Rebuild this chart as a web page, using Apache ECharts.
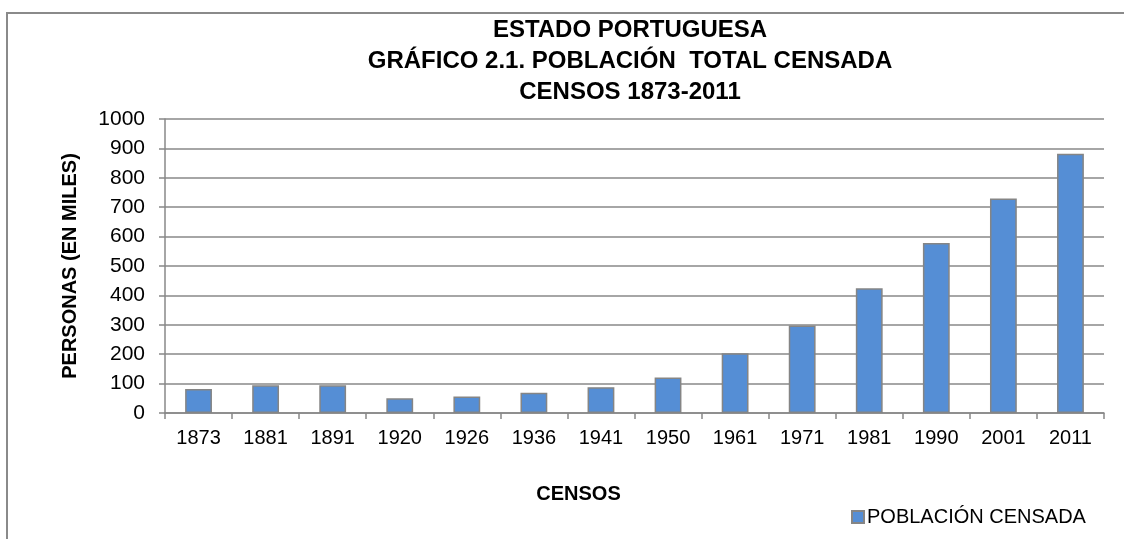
<!DOCTYPE html>
<html>
    <head>
        <meta charset="utf-8">
        <title>Estado Portuguesa</title>
        <script src="https://cdn.jsdelivr.net/npm/echarts@6/dist/echarts.min.js"></script>
        <style>
            html, body { margin: 0; padding: 0; background: #fff; }
            #chart1 { width: 1124px; height: 539px; }
        </style>
    </head>
    <body>
        <div id="chart1"></div>
        <script type="text/javascript">
            // datos (miles de personas)
            const censos = ['1873', '1881', '1891', '1920', '1926', '1936', '1941', '1950', '1961', '1971', '1981', '1990', '2001', '2011'];
            const poblacion = [82, 94, 94, 50, 56, 69, 88, 121, 203, 298, 424, 578, 730, 882];
            const titulo = ['ESTADO PORTUGUESA', 'GRÁFICO 2.1. POBLACIÓN  TOTAL CENSADA', 'CENSOS 1873-2011'];

            const fuente = '"Liberation Sans", Arial, sans-serif';
            let myChart1 = echarts.init(document.getElementById('chart1'));

            myChart1.setOption({
                animation: false,
                textStyle: { fontFamily: fuente },
                title: {
                    text: titulo.join('\n'),
                    left: 625,
                    top: 10,
                    textAlign: 'center',
                    textStyle: { fontSize: 24, fontWeight: 'bold', color: '#000', lineHeight: 31, fontFamily: fuente }
                },
                // marco del gráfico (recortado por la derecha y abajo)
                graphic: [{
                    type: 'rect',
                    shape: { x: 7, y: 13, width: 1140, height: 560 },
                    style: { fill: 'none', stroke: '#8a8a8a', lineWidth: 2 },
                    silent: true
                }],
                legend: {
                    data: ['POBLACIÓN CENSADA'],
                    left: 846,
                    top: 502,
                    itemWidth: 12,
                    itemHeight: 12,
                    icon: 'rect',
                    textStyle: { fontSize: 20, color: '#000', padding: [0, 0, 0, -2] }
                },
                grid: { left: 165, right: 20, top: 119, bottom: 126 },
                xAxis: {
                    type: 'category',
                    data: censos,
                    name: 'CENSOS',
                    nameLocation: 'middle',
                    nameGap: 71,
                    nameTextStyle: { fontSize: 20, fontWeight: 'bold', color: '#000', padding: [0, 112, 0, 0] },
                    axisLine: { lineStyle: { color: '#888', width: 1.5 } },
                    axisTick: { show: true, length: 6, lineStyle: { color: '#888', width: 1.5 } },
                    axisLabel: { fontSize: 20, color: '#000', margin: 15 }
                },
                yAxis: {
                    type: 'value',
                    min: 0,
                    max: 1000,
                    interval: 100,
                    name: 'PERSONAS (EN MILES)',
                    nameLocation: 'middle',
                    nameGap: 85,
                    nameTextStyle: { fontSize: 20, fontWeight: 'bold', color: '#000' },
                    axisLine: { show: true, lineStyle: { color: '#888', width: 1.5 } },
                    axisTick: { show: true, length: 6, lineStyle: { color: '#888', width: 1.5 } },
                    axisLabel: { fontSize: 21, color: '#000', margin: 20, formatter: (v) => String(v) },
                    splitLine: { lineStyle: { color: '#888', width: 1.5 } }
                },
                series: [{
                    name: 'POBLACIÓN CENSADA',
                    type: 'bar',
                    data: poblacion,
                    barWidth: '40%',
                    itemStyle: { color: '#558ed5', borderColor: '#858585', borderWidth: 1.5 }
                }]
            });
        </script>
    </body>
</html>
